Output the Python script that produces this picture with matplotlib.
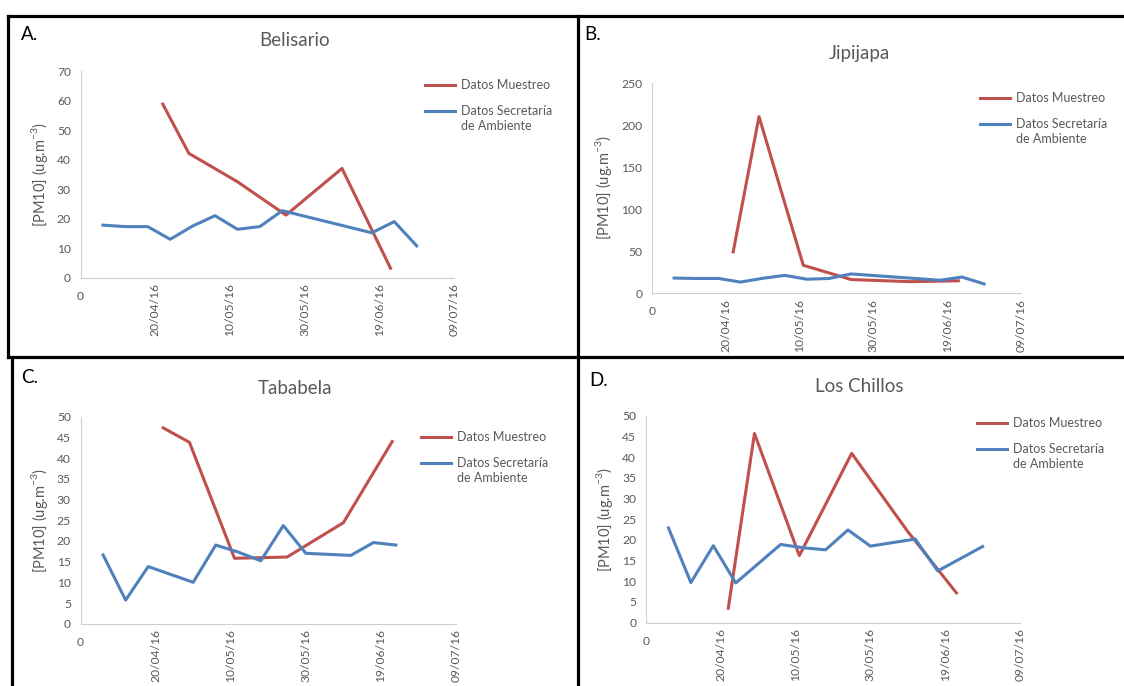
import matplotlib
matplotlib.use('Agg')
import matplotlib.pyplot as plt
from matplotlib.lines import Line2D
from matplotlib.legend_handler import HandlerLine2D

plt.rcParams['font.family'] = ['Lato', 'DejaVu Sans']
plt.rcParams['mathtext.fontset'] = 'custom'
plt.rcParams['mathtext.rm'] = 'Lato'

# x axis is days counted from 31/03/16
tick_days = [0, 20, 40, 60, 80, 100]
tick_labels = ['', '20/04/16', '10/05/16', '30/05/16', '19/06/16', '09/07/16']

# Datos Muestreo (sampling campaign)
belisario_m_days = [22, 29, 42, 55, 70, 83]
belisario_m = [58.8, 42.1, 32.5, 21.2, 37.0, 3.2]
jipijapa_m_days = [22, 29, 41, 54, 70, 83]
jipijapa_m = [49.0, 210.0, 33.0, 16.0, 13.5, 14.5]
tababela_m_days = [22, 29, 41, 55, 70, 83]
tababela_m = [47.3, 43.8, 15.8, 16.1, 24.4, 44.0]
chillos_m_days = [22, 29, 41, 55, 70, 83]
chillos_m = [3.5, 45.7, 16.2, 40.9, 22.0, 7.2]

# Datos Secretaria de Ambiente (monitoring network)
belisario_s_days = [6, 12, 18, 24, 30, 36, 42, 48, 54, 78, 84, 90]
belisario_s = [17.8, 17.3, 17.3, 13.0, 17.5, 21.0, 16.4, 17.3, 22.7, 15.2, 19.0, 10.8]
jipijapa_s_days = [6, 12, 18, 24, 30, 36, 42, 48, 54, 78, 84, 90]
jipijapa_s = [17.8, 17.3, 17.3, 13.0, 17.5, 21.0, 16.4, 17.3, 22.7, 15.2, 19.0, 10.8]
tababela_s_days = [6, 12, 18, 30, 36, 42, 48, 54, 60, 72, 78, 84]
tababela_s = [16.6, 5.7, 13.8, 10.0, 19.0, 17.3, 15.2, 23.7, 17.0, 16.5, 19.6, 19.0]
chillos_s_days = [6, 12, 18, 24, 36, 42, 48, 54, 60, 72, 78, 90]
chillos_s = [22.9, 9.7, 18.6, 9.6, 18.9, 18.1, 17.6, 22.4, 18.5, 20.2, 12.5, 18.4]

RED = '#C0504D'
BLUE = '#4F81BD'
GREY = '#595959'
W, H = 1124, 686


def fx(px):
    return px / W


def fy(py):
    return 1 - py / H


class FirstLineHandler(HandlerLine2D):
    # put the legend line next to the first row of a two-row label
    def __init__(self, shift=0.0, **kw):
        super().__init__(**kw)
        self.shift = shift

    def create_artists(self, legend, orig_handle, xdescent, ydescent,
                       width, height, fontsize, trans):
        return super().create_artists(legend, orig_handle, xdescent,
                                      ydescent - self.shift * fontsize,
                                      width, height, fontsize, trans)


panels = [
    dict(letter='A.', title='Belisario', m=(belisario_m_days, belisario_m),
         s=(belisario_s_days, belisario_s), ymax=70, ystep=10,
         box=(80.6, 454, 71, 277.7), title_xy=(295, 40), letter_xy=(21, 35),
         leg_xy=(425, 79)),
    dict(letter='B.', title='Jipijapa', m=(jipijapa_m_days, jipijapa_m),
         s=(jipijapa_s_days, jipijapa_s), ymax=250, ystep=50,
         box=(652, 1021, 83, 293), title_xy=(859, 53), letter_xy=(584, 35),
         leg_xy=(980, 92)),
    dict(letter='C.', title='Tababela', m=(tababela_m_days, tababela_m),
         s=(tababela_s_days, tababela_s), ymax=50, ystep=5,
         box=(80.6, 456, 416.7, 623.7), title_xy=(295, 388), letter_xy=(21, 378),
         leg_xy=(421, 431)),
    dict(letter='D.', title='Los Chillos', m=(chillos_m_days, chillos_m),
         s=(chillos_s_days, chillos_s), ymax=50, ystep=5,
         box=(646, 1020, 415.7, 622.7), title_xy=(859, 386), letter_xy=(589, 380),
         leg_xy=(977, 417)),
]

fig = plt.figure(figsize=(W / 100, H / 100), dpi=100)

for p in panels:
    x0, x1, ytop, ybot = p['box']
    ax = fig.add_axes([fx(x0), fy(ybot), fx(x1) - fx(x0), fy(ytop) - fy(ybot)])
    ax.plot(p['m'][0], p['m'][1], color=RED, lw=2.2, label='Datos Muestreo')
    ax.plot(p['s'][0], p['s'][1], color=BLUE, lw=2.2,
            label='Datos Secretaría\nde Ambiente')
    ax.set_xlim(0, 100)
    ax.set_ylim(0, p['ymax'])
    ax.set_yticks(range(0, p['ymax'] + 1, p['ystep']))
    ax.set_xticks(tick_days, tick_labels)
    for sp in ['top', 'right']:
        ax.spines[sp].set_visible(False)
    for sp in ['left', 'bottom']:
        ax.spines[sp].set_color('#D0D0D0')
        ax.spines[sp].set_linewidth(0.8)
    ax.tick_params(axis='y', length=0, pad=7, labelsize=8.7, labelcolor=GREY)
    ax.tick_params(axis='x', length=0, pad=4, labelsize=8.7, labelcolor=GREY,
                   labelrotation=90)
    # the origin label of the date axis sits upright, a little lower
    ax.annotate('0', xy=(0, 0), xycoords=('data', 'axes fraction'),
                xytext=(0, -13.5), textcoords='offset points',
                ha='center', va='center', fontsize=8.7, color=GREY)
    ax.set_ylabel('[PM10] (ug.m$^{-3}$)', fontsize=10.5, color=GREY, labelpad=5)

    handles, labels = ax.get_legend_handles_labels()
    leg = ax.legend(handles, labels, loc='upper left',
                    bbox_to_anchor=(fx(p['leg_xy'][0]), fy(p['leg_xy'][1])),
                    bbox_transform=fig.transFigure, frameon=False,
                    fontsize=9, handlelength=2.4, handletextpad=0.5,
                    labelspacing=1.1, borderpad=0, borderaxespad=0,
                    handler_map={handles[1]: FirstLineHandler(shift=1.25)})
    for t in leg.get_texts():
        t.set_color(GREY)
        t.set_linespacing(1.3)

    fig.text(fx(p['title_xy'][0]), fy(p['title_xy'][1]), p['title'],
             ha='center', va='center', fontsize=13.5, color=GREY)
    fig.text(fx(p['letter_xy'][0]), fy(p['letter_xy'][1]), p['letter'],
             ha='left', va='center', fontsize=13.5, color='black')

# black frame lines separating the four panels
frame = dict(color='black', lw=2.3, transform=fig.transFigure)
fig.add_artist(Line2D([fx(8), 1], [fy(16), fy(16)], **frame))
fig.add_artist(Line2D([fx(8), 1], [fy(357), fy(357)], **frame))
fig.add_artist(Line2D([fx(8), fx(8)], [fy(16), fy(357)], **frame))
fig.add_artist(Line2D([fx(12), fx(12)], [fy(357), 0], **frame))
fig.add_artist(Line2D([fx(578), fx(578)], [fy(16), 0], **frame))

fig.savefig('out.png', dpi=100)
